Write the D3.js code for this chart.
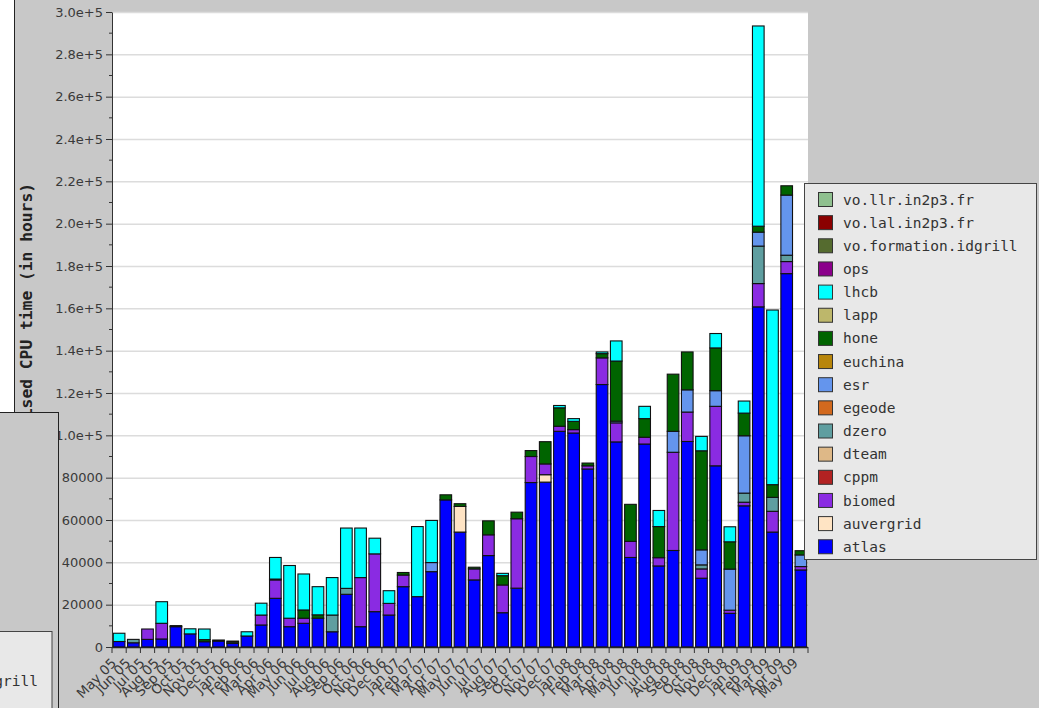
<!DOCTYPE html>
<html>
<head>
<meta charset="utf-8">
<script src="https://cdn.jsdelivr.net/npm/d3@7"></script>
<style>
  body { margin: 0; background: #c8c8c8; }
  svg { display: block; }
</style>
</head>
<body>
<div id="container"></div>
<script>
const months = [
  "May 05", "Jun 05", "Jul 05", "Aug 05", "Sep 05", "Oct 05", "Nov 05", "Dec 05",
  "Jan 06", "Feb 06", "Mar 06", "Apr 06", "May 06", "Jun 06", "Jul 06", "Aug 06",
  "Sep 06", "Oct 06", "Nov 06", "Dec 06", "Jan 07", "Feb 07", "Mar 07", "Apr 07",
  "May 07", "Jun 07", "Jul 07", "Aug 07", "Sep 07", "Oct 07", "Nov 07", "Dec 07",
  "Jan 08", "Feb 08", "Mar 08", "Apr 08", "May 08", "Jun 08", "Jul 08", "Aug 08",
  "Sep 08", "Oct 08", "Nov 08", "Dec 08", "Jan 09", "Feb 09", "Mar 09", "Apr 09",
  "May 09"
];

// CPU hours per VO, one value per month
const atlas = [
  2600, 2000, 3600, 3800, 9600, 6200, 2500, 2800, 1700, 5200, 10400, 23000, 9600,
  11200, 13600, 7200, 24900, 9600, 16700, 15100, 28500, 23800, 35600, 69500, 54300,
  31700, 43200, 16200, 27800, 77700, 77900, 101900, 101100, 84100, 124000, 96900,
  42300, 95900, 38300, 45600, 97100, 32500, 85600, 15900, 66700, 160700, 54300,
  176400, 36400
];
const auvergrid = [
  0, 0, 0, 0, 0, 0, 0, 0, 0, 0, 0, 0, 0, 0, 0, 0, 0, 0, 0, 0, 0, 0, 0, 0,
  12100, 0, 0, 0, 0, 0, 3500, 0, 0, 0, 0, 0, 0, 0, 0, 0, 0, 0, 0, 0, 0, 0, 0, 0, 0
];
const biomed = [
  0, 0, 4900, 7400, 0, 0, 0, 0, 0, 0, 4700, 8700, 4000, 2400, 0, 0, 0, 23200,
  27300, 5500, 5500, 0, 0, 0, 0, 5200, 9800, 13100, 32800, 12300, 5100, 2400, 1600,
  1500, 12600, 9000, 7600, 3200, 3900, 46400, 13900, 4400, 28100, 1500, 1700, 11000,
  9800, 5700, 1600
];
const dzero = [
  0, 1600, 0, 0, 0, 0, 0, 0, 600, 0, 0, 0, 0, 0, 0, 7900, 2800, 0, 0, 0, 0, 0, 0, 0,
  0, 0, 0, 0, 0, 0, 0, 0, 0, 0, 0, 0, 0, 0, 0, 0, 0, 1900, 0, 0, 4300, 17700, 6600,
  3000, 0
];
const esr = [
  0, 0, 0, 0, 0, 0, 0, 0, 0, 0, 0, 0, 0, 0, 0, 0, 0, 0, 0, 0, 0, 0, 4300, 0, 0, 0,
  0, 0, 0, 0, 0, 0, 0, 0, 0, 800, 0, 0, 0, 9900, 10500, 7100, 7400, 19400, 27100,
  6600, 0, 28400, 5500
];
const hone = [
  0, 0, 0, 0, 500, 0, 1000, 500, 0, 0, 0, 400, 0, 3900, 1600, 0, 0, 0, 0, 0, 1200,
  0, 0, 2400, 1300, 800, 6600, 4400, 3100, 2800, 10500, 8700, 3900, 1300, 2000,
  28400, 17500, 8800, 14700, 27000, 17900, 46800, 20200, 12900, 10700, 2800, 6000,
  4400, 2000
];
const lhcb = [
  3900, 0, 0, 10200, 0, 2400, 5000, 0, 500, 2000, 5600, 10200, 24900, 17000, 13300,
  17700, 28500, 23400, 7400, 6000, 0, 33100, 19900, 0, 0, 0, 0, 1100, 0, 0, 0, 1100,
  1300, 0, 800, 9500, 0, 5800, 7600, 0, 0, 6800, 6800, 7100, 5700, 94600, 82500, 0, 0
];

// legend order, top to bottom
const voNames = [
  "vo.llr.in2p3.fr", "vo.lal.in2p3.fr", "vo.formation.idgrill", "ops", "lhcb", "lapp",
  "hone", "euchina", "esr", "egeode", "dzero", "dteam", "cppm", "biomed", "auvergrid", "atlas"
];
const voColors = [
  "#8fc08f", "#8b0000", "#556b2f", "#8b008b", "#00ffff", "#bdb76b",
  "#006400", "#b8860b", "#6495ed", "#d2691e", "#5f9ea0", "#deb887", "#b22222", "#8a2be2", "#ffe4c4", "#0000ff"
];

const yTicks = [0, 20000, 40000, 60000, 80000, 100000, 120000, 140000, 160000,
  180000, 200000, 220000, 240000, 260000, 280000, 300000];

const valuesByVo = {atlas, auvergrid, biomed, dzero, esr, hone, lhcb};
const stackKeys = voNames.slice().reverse();
const color = d3.scaleOrdinal(voNames, voColors);

const rows = months.map((m, i) => {
  let r = {month: m};
  stackKeys.forEach(k => r[k] = valuesByVo[k] ? valuesByVo[k][i] : 0);
  return r;
});

const width = 1039, height = 708;
const plotLeft = 112, plotRight = 808, plotTop = 12, plotBottom = 647;

let svg = d3.select("#container")
  .append("svg")
  .attr("width", width)
  .attr("height", height);

svg.append("rect")
  .attr("width", width)
  .attr("height", height)
  .attr("fill", "#c8c8c8");

// bit of another window behind, on the left
svg.append("rect")
  .attr("x", 0).attr("y", 0)
  .attr("width", 14).attr("height", 412)
  .attr("fill", "#fff");
svg.append("line")
  .attr("x1", 14.5).attr("x2", 14.5)
  .attr("y1", 0).attr("y2", 412)
  .attr("stroke", "#222");

const x = d3.scaleBand()
  .domain(months)
  .range([plotLeft, plotRight])
  .paddingInner(0.18)
  .paddingOuter(0.09);

const y = d3.scaleLinear()
  .domain([0, 300000])
  .range([plotBottom, plotTop]);

svg.append("rect")
  .attr("x", plotLeft).attr("y", plotTop)
  .attr("width", plotRight - plotLeft).attr("height", plotBottom - plotTop)
  .attr("fill", "#fff");

svg.append("g")
  .selectAll("line")
  .data(yTicks.slice(1))
  .join("line")
  .attr("x1", plotLeft).attr("x2", plotRight)
  .attr("y1", d => y(d) + 0.5).attr("y2", d => y(d) + 0.5)
  .attr("stroke", "#dcdcdc")
  .attr("stroke-width", 1.5);

const stacked = d3.stack().keys(stackKeys)(rows);

const layer = svg.append("g")
  .selectAll("g")
  .data(stacked)
  .join("g")
  .attr("fill", d => color(d.key));

layer.selectAll("rect")
  .data(d => d.filter(s => s[1] - s[0] > 0))
  .join("rect")
  .attr("x", d => x(d.data.month))
  .attr("width", x.bandwidth())
  .attr("y", d => y(d[1]))
  .attr("height", d => y(d[0]) - y(d[1]))
  .attr("stroke", "#111")
  .attr("stroke-width", 1.1);

// y axis
const yAxis = svg.append("g")
  .attr("transform", `translate(${plotLeft},0)`)
  .call(d3.axisLeft(y)
    .tickValues(yTicks)
    .tickSize(6)
    .tickSizeOuter(0)
    .tickPadding(3)
    .tickFormat(d => d >= 100000 ? d.toExponential(1) : d3.format("d")(d)));

yAxis.selectAll("text")
  .attr("font-family", "DejaVu Sans")
  .attr("font-size", "13px")
  .attr("fill", "#3a3a3a");
yAxis.selectAll("line, path").attr("stroke", "#333");

svg.append("g")
  .selectAll("line")
  .data(yTicks.slice(1).map(d => d - 10000))
  .join("line")
  .attr("x1", plotLeft - 3).attr("x2", plotLeft)
  .attr("y1", d => y(d)).attr("y2", d => y(d))
  .attr("stroke", "#333");

// x axis
const step = x.step();
svg.append("line")
  .attr("x1", plotLeft).attr("x2", plotRight)
  .attr("y1", plotBottom + 0.5).attr("y2", plotBottom + 0.5)
  .attr("stroke", "#222")
  .attr("stroke-width", 1.5);

svg.append("g")
  .selectAll("line")
  .data(d3.range(months.length + 1))
  .join("line")
  .attr("x1", i => plotLeft + i * step).attr("x2", i => plotLeft + i * step)
  .attr("y1", plotBottom).attr("y2", plotBottom + 6)
  .attr("stroke", "#333");

svg.append("g")
  .selectAll("text")
  .data(months)
  .join("text")
  .attr("transform", d => `translate(${x(d) + x.bandwidth() / 2 - 2},${plotBottom + 17}) rotate(-45)`)
  .attr("text-anchor", "end")
  .attr("font-family", "DejaVu Sans")
  .attr("font-size", "13.5px")
  .attr("fill", "#3a3a3a")
  .text(d => d);

svg.append("text")
  .attr("transform", "translate(32,330) rotate(-90)")
  .attr("text-anchor", "middle")
  .attr("font-family", "DejaVu Sans Mono")
  .attr("font-weight", "bold")
  .attr("font-size", "15px")
  .attr("textLength", 294)
  .attr("lengthAdjust", "spacingAndGlyphs")
  .attr("fill", "#222")
  .text("Normalised CPU time (in hours)");

// legend
const legend = svg.append("g");
legend.append("rect")
  .attr("x", 804.5).attr("y", 183.5)
  .attr("width", 232).attr("height", 376)
  .attr("fill", "#e8e8e8")
  .attr("stroke", "#444");

const item = legend.selectAll(".item")
  .data(voNames)
  .join("g")
  .attr("class", "item")
  .attr("transform", (d, i) => `translate(0,${199.5 + i * 23.15})`);

item.append("rect")
  .attr("x", 818.5).attr("y", -7)
  .attr("width", 14).attr("height", 14)
  .attr("fill", d => color(d))
  .attr("stroke", "#333");

item.append("text")
  .attr("x", 843)
  .attr("dy", "0.35em")
  .attr("font-family", "DejaVu Sans Mono")
  .attr("font-size", "14.5px")
  .attr("fill", "#333")
  .text(d => d);

// overlapping window at the lower left
svg.append("rect")
  .attr("x", -2).attr("y", 412.5)
  .attr("width", 60.5).attr("height", 300)
  .attr("fill", "#c8c8c8")
  .attr("stroke", "#222");
svg.append("rect")
  .attr("x", -2).attr("y", 631.5)
  .attr("width", 54).attr("height", 80)
  .attr("fill", "#e8e8e8")
  .attr("stroke", "#444");
svg.append("text")
  .attr("x", 38).attr("y", 681)
  .attr("dy", "0.35em")
  .attr("text-anchor", "end")
  .attr("font-family", "DejaVu Sans Mono")
  .attr("font-size", "14.5px")
  .attr("fill", "#333")
  .text("vo.formation.idgrill");
</script>
</body>
</html>
